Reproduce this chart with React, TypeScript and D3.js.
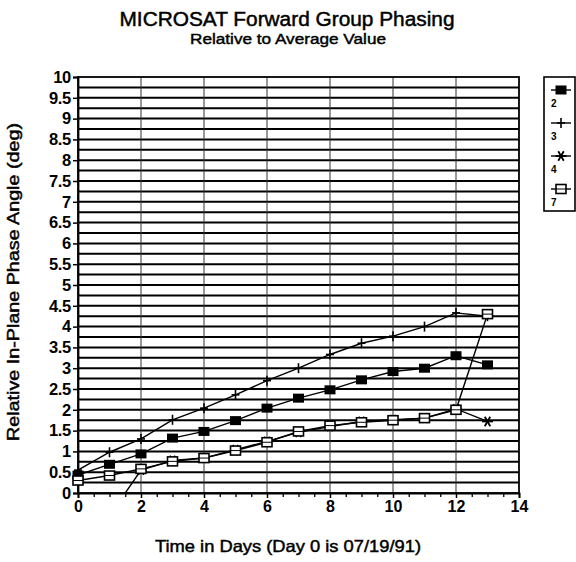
import React, { useEffect, useRef } from "react";
import * as d3 from "d3";

const days = [0, 1, 2, 3, 4, 5, 6, 7, 8, 9, 10, 11, 12, 13];
const series2 = [0.43, 0.69, 0.94, 1.32, 1.48, 1.74, 2.04, 2.28, 2.48, 2.72, 2.92, 3.0, 3.3, 3.08];
const series3 = [0.55, 0.98, 1.3, 1.76, 2.04, 2.36, 2.7, 3.0, 3.33, 3.6, 3.77, 4.0, 4.33, 4.25];
const series4 = [null, -0.55, 0.55, 0.78, 0.84, 1.04, 1.24, 1.46, 1.6, 1.72, 1.76, 1.8, 2.02, 1.72];
const series7 = [0.3, 0.42, 0.58, 0.76, 0.84, 1.02, 1.22, 1.48, 1.62, 1.7, 1.75, 1.8, 2.0, 4.3];
const seriesNames = ["2", "3", "4", "7"];
const markers = ["filledSquare", "plus", "asterisk", "openSquare"];

const yTicks = d3.range(0, 10.01, 0.5);
const xTicks = [0, 2, 4, 6, 8, 10, 12, 14];

const FONT = "'Liberation Sans', Arial, Helvetica, sans-serif";

function drawMarker(g: any, kind: string, cx: number, cy: number) {
  if (kind === "filledSquare") {
    g.append("rect").attr("x", cx - 5.5).attr("y", cy - 4.5).attr("width", 11).attr("height", 9).attr("fill", "#000");
  } else if (kind === "openSquare") {
    g.append("rect").attr("x", cx - 5).attr("y", cy - 4.5).attr("width", 10).attr("height", 9)
      .attr("fill", "#fff").attr("stroke", "#000").attr("stroke-width", 1.6);
    g.append("line").attr("x1", cx - 5).attr("x2", cx + 5).attr("y1", cy).attr("y2", cy).attr("stroke", "#000").attr("stroke-width", 1);
  } else if (kind === "plus") {
    g.append("line").attr("x1", cx).attr("x2", cx).attr("y1", cy - 5).attr("y2", cy + 5).attr("stroke", "#000").attr("stroke-width", 1.6);
    g.append("line").attr("x1", cx - 4).attr("x2", cx + 4).attr("y1", cy).attr("y2", cy).attr("stroke", "#000").attr("stroke-width", 1.6);
  } else {
    const r = 5.5;
    [0, 60, 120].forEach((a) => {
      const rad = (a * Math.PI) / 180;
      g.append("line")
        .attr("x1", cx - r * Math.cos(rad)).attr("x2", cx + r * Math.cos(rad))
        .attr("y1", cy - r * Math.sin(rad)).attr("y2", cy + r * Math.sin(rad))
        .attr("stroke", "#000").attr("stroke-width", 1.8);
    });
  }
}

export default function App() {
  const ref = useRef<SVGSVGElement>(null);

  useEffect(() => {
    const width = 576, height = 562;
    const margin = { top: 77, right: 57, bottom: 69, left: 78 };
    const innerW = width - margin.left - margin.right;
    const innerH = height - margin.top - margin.bottom;

    const svg = d3.select(ref.current).attr("width", width).attr("height", height);
    svg.selectAll("*").remove();
    svg.append("rect").attr("width", width).attr("height", height).attr("fill", "#fff");

    const x = d3.scaleLinear().domain([0, 14]).range([0, innerW]);
    const y = d3.scaleLinear().domain([0, 10]).range([innerH, 0]);

    svg.append("defs").append("clipPath").attr("id", "plot-clip")
      .append("rect").attr("width", innerW).attr("height", innerH);

    const g = svg.append("g").attr("transform", `translate(${margin.left},${margin.top})`);

    // horizontal grid every 0.25
    g.selectAll(".hgrid").data(d3.range(0.25, 10, 0.25)).join("line").attr("class", "hgrid")
      .attr("x1", 0).attr("x2", innerW).attr("y1", (d) => y(d)).attr("y2", (d) => y(d))
      .attr("stroke", "#000").attr("stroke-width", 2);

    // vertical grid every 2 days
    g.selectAll(".vgrid").data([2, 4, 6, 8, 10, 12]).join("line").attr("class", "vgrid")
      .attr("x1", (d) => x(d)).attr("x2", (d) => x(d)).attr("y1", 0).attr("y2", innerH)
      .attr("stroke", "#333").attr("stroke-width", 1);

    // frame
    g.append("rect").attr("width", innerW).attr("height", innerH).attr("fill", "none")
      .attr("stroke", "#000").attr("stroke-width", 1.8);

    // axes
    const yAxis = g.append("g").call(d3.axisLeft(y).tickValues(yTicks).tickSize(5).tickPadding(2)
      .tickFormat((d) => d3.format("")(d as number)));
    yAxis.select(".domain").attr("stroke-width", 1.8);
    yAxis.selectAll("line").attr("stroke-width", 1.5);
    yAxis.selectAll("text").attr("font-family", FONT).attr("font-size", 16.5).attr("font-weight", "bold")
      .attr("fill", "#000").attr("letter-spacing", -0.3);

    const xAxis = g.append("g").attr("transform", `translate(0,${innerH})`)
      .call(d3.axisBottom(x).tickValues(xTicks).tickSize(5).tickPadding(3));
    xAxis.select(".domain").attr("stroke-width", 1.8);
    xAxis.selectAll("line").attr("stroke-width", 1.5);
    xAxis.selectAll("text").attr("font-family", FONT).attr("font-size", 16).attr("font-weight", "bold").attr("fill", "#000");

    g.append("g").attr("transform", `translate(0,${innerH})`)
      .call(d3.axisBottom(x).tickValues(d3.range(0.5, 14, 0.5).filter((v) => v % 2 !== 0)).tickSize(4).tickFormat(() => ""))
      .call((s) => s.select(".domain").remove())
      .selectAll("line").attr("stroke-width", 1.3);

    // series
    const allSeries = [series2, series3, series4, series7];
    const line = d3.line<[number, number | null]>()
      .defined((d) => d[1] !== null)
      .x((d) => x(d[0])).y((d) => y(d[1] as number));

    const plot = g.append("g").attr("clip-path", "url(#plot-clip)");
    allSeries.forEach((vals) => {
      const pts = days.map((d, i) => [d, vals[i]] as [number, number | null]);
      plot.append("path").datum(pts).attr("d", line).attr("fill", "none")
        .attr("stroke", "#000").attr("stroke-width", 1.4);
    });
    allSeries.forEach((vals, si) => {
      days.forEach((d, i) => {
        const v = vals[i];
        if (v === null || v < 0 || v > 10) return;
        drawMarker(g, markers[si], x(d), y(v));
      });
    });

    // titles (scanned Helvetica: regular weight, slightly thickened with a stroke)
    const title = (t: any) => t.attr("font-family", FONT).attr("fill", "#000").attr("stroke", "#000")
      .attr("stroke-width", 0.45).attr("text-anchor", "middle").attr("lengthAdjust", "spacingAndGlyphs");
    svg.append("text").attr("x", 287).attr("y", 26).attr("font-size", 19.5).attr("textLength", 335)
      .call(title).text("MICROSAT Forward Group Phasing");
    svg.append("text").attr("x", 288).attr("y", 44).attr("font-size", 15.5).attr("textLength", 196)
      .call(title).text("Relative to Average Value");
    svg.append("text").attr("transform", `translate(19,${margin.top + innerH / 2 - 3}) rotate(-90)`)
      .attr("font-size", 16).attr("textLength", 318)
      .call(title).text("Relative In-Plane Phase Angle (deg)");
    svg.append("text").attr("x", 288).attr("y", 552).attr("font-size", 16.5).attr("textLength", 266)
      .call(title).text("Time in Days (Day 0 is 07/19/91)");

    // legend
    const leg = svg.append("g").attr("transform", "translate(544,77)");
    leg.append("rect").attr("width", 31).attr("height", 134).attr("fill", "#fff")
      .attr("stroke", "#000").attr("stroke-width", 1.6);
    seriesNames.forEach((name, i) => {
      const cy = 13 + i * 33;
      leg.append("line").attr("x1", 7).attr("x2", 27).attr("y1", cy).attr("y2", cy)
        .attr("stroke", "#000").attr("stroke-width", 1.4);
      drawMarker(leg, markers[i], 17, cy);
      leg.append("text").attr("x", 7).attr("y", cy + 17).attr("font-family", FONT)
        .attr("font-size", 10).attr("font-weight", "bold").attr("fill", "#000").text(name);
    });
  }, []);

  return <svg ref={ref} style={{ position: "absolute", left: 0, top: 0 }}></svg>;
}
